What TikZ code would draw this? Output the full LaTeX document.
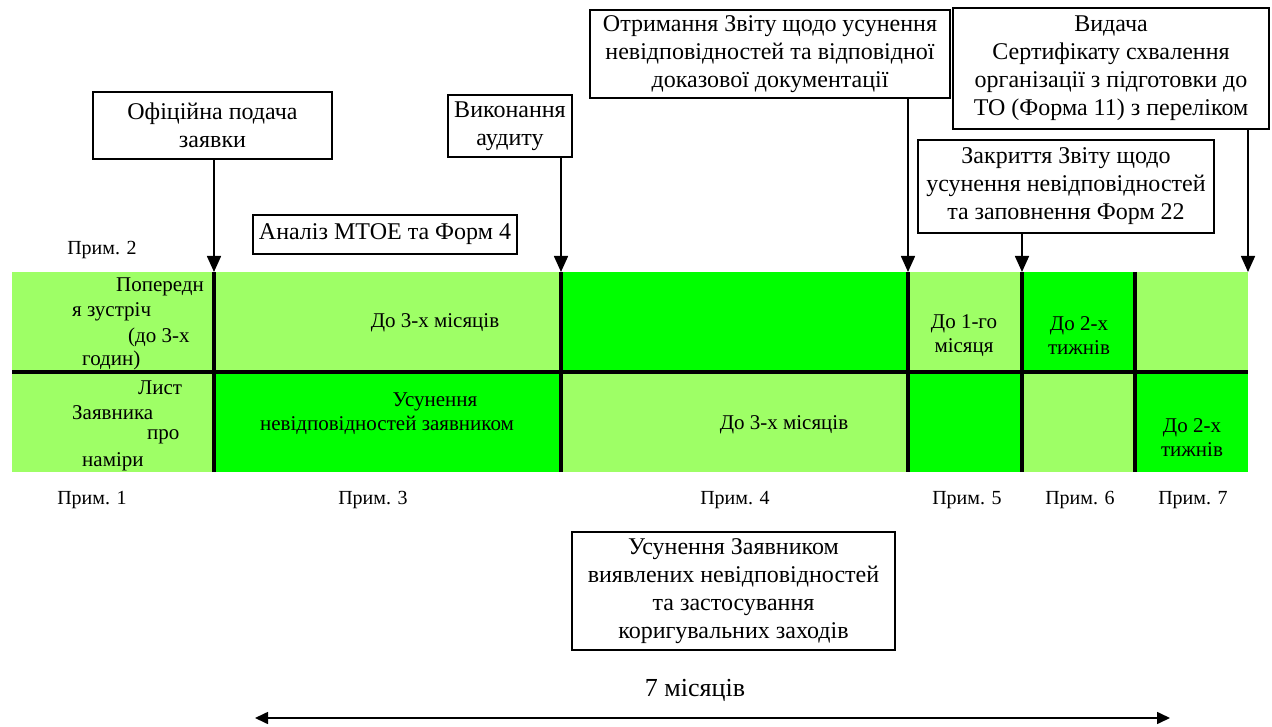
\documentclass[tikz,border=0pt]{standalone}
\usepackage{fontspec}
\setmainfont{Liberation Serif}
\usetikzlibrary{arrows.meta}
\definecolor{lg}{RGB}{158,255,102}
\definecolor{bgr}{RGB}{0,255,0}
\begin{document}
\begin{tikzpicture}[x=1pt,y=-1pt,
  box/.style={draw,line width=1.6pt,fill=white,align=center,inner sep=0pt,font=\fontsize{24}{28}\selectfont},
  cell/.style={inner sep=0pt,align=center,font=\fontsize{21}{24}\selectfont},
  side/.style={inner sep=0pt,anchor=west,font=\fontsize{21}{24}\selectfont},
  prim/.style={inner sep=0pt,font=\fontsize{20}{24}\selectfont},
  arr/.style={line width=1.6pt,-{Triangle[width=14pt,length=16pt]}},
  divider/.style={line width=3.6pt}]
\useasboundingbox (0,0) rectangle (1272,727);
% band cells
\fill[lg]  (12,272) rectangle (214,372);
\fill[lg]  (214,272) rectangle (561,372);
\fill[bgr] (561,272) rectangle (908,372);
\fill[lg]  (908,272) rectangle (1022,372);
\fill[bgr] (1022,272) rectangle (1135,372);
\fill[lg]  (1135,272) rectangle (1248,372);
\fill[lg]  (12,372) rectangle (214,472);
\fill[bgr] (214,372) rectangle (561,472);
\fill[lg]  (561,372) rectangle (908,472);
\fill[bgr] (908,372) rectangle (1022,472);
\fill[lg]  (1022,372) rectangle (1135,472);
\fill[bgr] (1135,372) rectangle (1248,472);
% divider coordinates
\coordinate (t1) at (214,272); \coordinate (b1) at (214,472);
\coordinate (t2) at (561,272); \coordinate (b2) at (561,472);
\coordinate (t3) at (908,272); \coordinate (b3) at (908,472);
\coordinate (t4) at (1022,272); \coordinate (b4) at (1022,472);
\coordinate (t5) at (1135,272); \coordinate (b5) at (1135,472);
\coordinate (t6) at (1248,272);
\coordinate (ml) at (12,372); \coordinate (mr) at (1248,372);
\draw[divider] (ml) -- (mr);
\foreach \i in {1,...,5} {\draw[divider] (t\i) -- (b\i);}
% boxes
\node[box,minimum width=239pt,minimum height=67pt] (ofic) at (212.5,125.5) {Офіційна подача\\заявки};
\node[box,minimum width=124pt,minimum height=62pt] (vyk) at (510,126) {Виконання\\аудиту};
\node[box,minimum width=264pt,minimum height=39pt] (anal) at (385,234.5) {Аналіз МТОЕ та Форм 4};
\node[box,minimum width=360pt,minimum height=88pt] (otr) at (770,54) {Отримання Звіту щодо усунення\\невідповідностей та відповідної\\доказової документації};
\node[box,minimum width=316pt,minimum height=121pt] (vyd) at (1111,68.5) {Видача\\Сертифікату схвалення\\організації з підготовки до\\ТО (Форма 11) з переліком};
\node[box,minimum width=296pt,minimum height=93pt] (zakr) at (1066,186.5) {Закриття Звіту щодо\\усунення невідповідностей\\та заповнення Форм 22};
\node[box,minimum width=323pt,minimum height=118pt] (usun) at (733.5,591) {Усунення Заявником\\виявлених невідповідностей\\та застосування\\коригувальних заходів};
% arrows
\draw[arr] (ofic.south -| t1) -- (t1);
\draw[arr] (vyk.south -| t2) -- (t2);
\draw[arr] (otr.south -| t3) -- (t3);
\draw[arr] (zakr.south -| t4) -- (t4);
\draw[arr] (vyd.south -| t6) -- (t6);
% side texts
\node[side] (s1) at (116,287) {Попередн};
\node[side] (s2) at (72,312) {я зустріч};
\node[side] (s3) at (128,337) {(до 3-х};
\node[side] (s4) at (82,360) {годин)};
\node[side] (s5) at (138,388) {Лист};
\node[side] (s6) at (72,413) {Заявника};
\node[side] (s7) at (147,437) {про};
\node[side] (s8) at (82,462) {наміри};
% cell texts
\node[cell] (c1) at (435,323) {До 3-х місяців};
\node[cell] (c2a) at (435,402) {Усунення};
\node[cell] (c2b) at (387,425) {невідповідностей заявником};
\node[cell] (c3) at (784,425) {До 3-х місяців};
\node[cell] (c4) at (964,336) {До 1-го\\місяця};
\node[cell] (c5) at (1079,336) {До 2-х\\тижнів};
\node[cell] (c6) at (1192,438) {До 2-х\\тижнів};
% notes
\node[prim] (p2) at (102,250) {Прим. 2};
\node[prim] (p1) at (92,500) {Прим. 1};
\node[prim] (p3) at (373,500) {Прим. 3};
\node[prim] (p4) at (735,500) {Прим. 4};
\node[prim] (p5) at (967,500) {Прим. 5};
\node[prim] (p6) at (1080,500) {Прим. 6};
\node[prim] (p7) at (1193,500) {Прим. 7};
% duration
\node[inner sep=0pt,font=\fontsize{26}{30}\selectfont] (dur) at (695,690) {7 місяців};
\coordinate (la) at (255,718);
\coordinate (ra) at (1170,718);
\draw[line width=1.6pt,{Triangle[width=12pt,length=13pt]}-{Triangle[width=12pt,length=13pt]}] (la) -- (ra);
\end{tikzpicture}
\end{document}
